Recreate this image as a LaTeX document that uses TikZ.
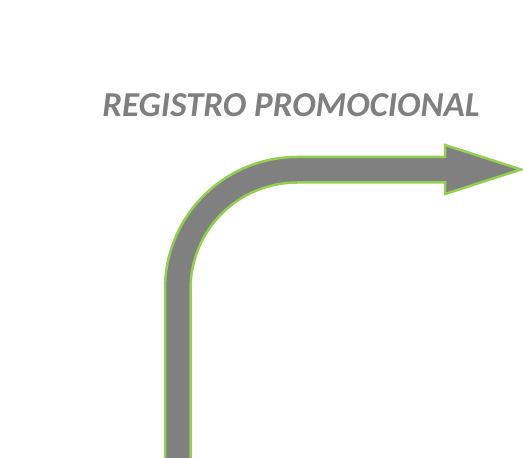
\documentclass[tikz,border=0pt]{standalone}
\usepackage{fontspec}
\setmainfont{Carlito}
\definecolor{arrowgray}{HTML}{808080}
\definecolor{textgray}{HTML}{7F7F7F}
\definecolor{officegreen}{HTML}{92D050}
\begin{document}
\begin{tikzpicture}[x=1pt,y=1pt,
  titletext/.style={font=\fontsize{35}{40}\selectfont\bfseries\itshape, text=textgray, inner sep=0pt},
  bentarrow/.style={fill=arrowgray, draw=officegreen, line width=2.5pt, line join=miter}]
\useasboundingbox (0,0) rectangle (523,458);
\node[titletext, anchor=base] (title) at (291,341.3) {REGISTRO PROMOCIONAL};
\begin{scope}
\clip (0,0) rectangle (523,458);
\draw[bentarrow] (165,-4) -- (165,169) arc[start angle=180, end angle=90, radius=132]
  -- (445,301) -- (445,313) -- (521,288.5) -- (445,264) -- (445,275.5) -- (297,275.5)
  arc[start angle=90, end angle=180, radius=106.5] -- (190.5,-4) -- cycle;
\end{scope}
\end{tikzpicture}
\end{document}
